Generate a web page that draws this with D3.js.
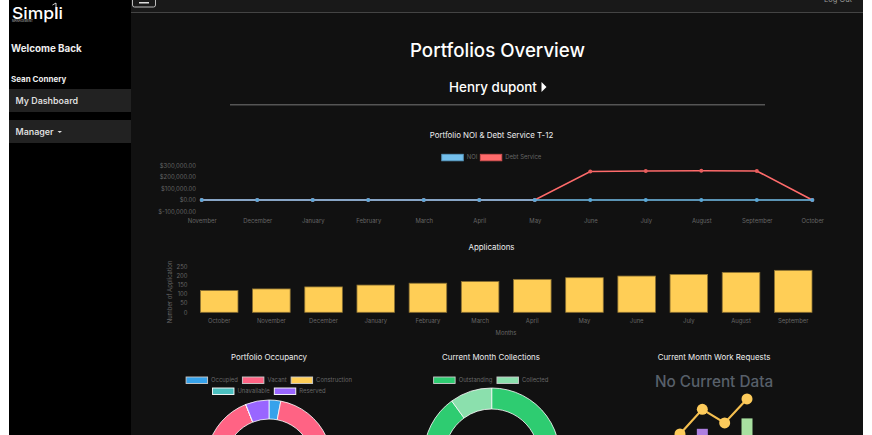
<!DOCTYPE html>
<html>
<head>
<meta charset="utf-8">
<script src="https://cdn.jsdelivr.net/npm/d3@7"></script>
<style>
  html, body { margin: 0; padding: 0; background: #fff; overflow: hidden; }
  svg { display: block; font-family: Inter, "Noto Sans", sans-serif; }
  .domain { display: none; }
</style>
</head>
<body>
<div id="page"></div>
<script>
// Line chart data
const lineMonths = ['November', 'December', 'January', 'February', 'March', 'April', 'May', 'June', 'July', 'August', 'September', 'October'];
const noiValues = [0, 0, 0, 0, 0, 0, 0, 0, 0, 0, 0, 0];
const debtValues = [0, 0, 0, 0, 0, 0, 0, 246000, 250000, 252000, 250000, 0];
const lineTicks = [-100000, 0, 100000, 200000, 300000];

// Applications data
const barMonths = ['October', 'November', 'December', 'January', 'February', 'March', 'April', 'May', 'June', 'July', 'August', 'September'];
const applications = [118, 127, 138, 148, 158, 167, 179, 188, 197, 206, 217, 228];
const barTicks = [0, 50, 100, 150, 200, 250];

// Donuts
const occupancyLabels = ['Occupied', 'Vacant', 'Construction', 'Unavailable', 'Reserved'];
const occupancyValues = [3, 91, 0, 0, 6];
const occupancyColors = ['#36a2eb', '#ff6384', '#ffce56', '#4bc0c0', '#9966ff'];
const collectionLabels = ['Outstanding', 'Collected'];
const collectionValues = [90, 10];
const collectionColors = ['#2ecc71', '#8be0ad'];

// "No Current Data" illustration
const emptyLine = [1, 2.9, 1.85, 3.7];
const emptyBars = [{ slot: 1, value: 1.4, color: '#ad7fe0' }, { slot: 3, value: 2.2, color: '#a8e0a0' }];

const svg = d3.select('#page').append('svg').attr('width', 872).attr('height', 435);
const muted = '#666';
const tickSize = 5.9;

// Page shell
svg.append('rect').attr('x', 9).attr('width', 122).attr('height', 435).attr('fill', '#000');
svg.append('rect').attr('x', 131).attr('width', 732).attr('height', 435).attr('fill', '#111');
svg.append('rect').attr('x', 131).attr('width', 732).attr('height', 12).attr('fill', '#191919');
svg.append('rect').attr('x', 131).attr('y', 12).attr('width', 732).attr('height', 1).attr('fill', '#444');
svg.append('rect').attr('x', 132.5).attr('y', -6).attr('width', 23).attr('height', 13).attr('rx', 2)
  .attr('fill', 'none').attr('stroke', '#bbb');
svg.append('rect').attr('x', 139).attr('y', 2).attr('width', 10).attr('height', 1.5).attr('fill', '#ddd');
svg.append('text').attr('x', 838).attr('y', 2).attr('text-anchor', 'middle')
  .attr('font-size', 7.5).attr('fill', '#999').text('Log Out');

// Sidebar
svg.append('text').attr('x', 12).attr('y', 19.3).attr('font-size', 16.5).attr('font-weight', 500)
  .attr('fill', '#fff').attr('textLength', 51).attr('lengthAdjust', 'spacingAndGlyphs').text('Simpli');
svg.append('path').attr('d', 'M52.5 5 L56 3 V19').attr('fill', 'none').attr('stroke', '#fff').attr('stroke-width', 0.8);
svg.append('text').attr('x', 12).attr('y', 22).attr('font-size', 2.9).attr('fill', '#bbb').text('MANAGEMENT');
svg.append('text').attr('x', 11).attr('y', 52).attr('font-size', 9.8).attr('font-weight', 700)
  .attr('fill', '#eee').text('Welcome Back');
svg.append('text').attr('x', 11).attr('y', 82).attr('font-size', 8).attr('font-weight', 700)
  .attr('fill', '#eee').text('Sean Connery');
svg.append('rect').attr('x', 9).attr('y', 89).attr('width', 122).attr('height', 23).attr('fill', '#222');
svg.append('rect').attr('x', 9).attr('y', 120).attr('width', 122).attr('height', 23).attr('fill', '#222');
svg.append('text').attr('x', 15.5).attr('y', 104).attr('font-size', 8.9).attr('font-weight', 600)
  .attr('fill', '#ddd').text('My Dashboard');
svg.append('text').attr('x', 15.5).attr('y', 135).attr('font-size', 8.9).attr('font-weight', 600)
  .attr('fill', '#ddd').text('Manager');
svg.append('path').attr('d', 'M57.5 131 h4.5 l-2.25 2 z').attr('fill', '#ddd');

// Headings
svg.append('text').attr('x', 497.5).attr('y', 57).attr('text-anchor', 'middle').attr('font-size', 18.7)
  .attr('font-weight', 500).attr('fill', '#fff').text('Portfolios Overview');
svg.append('text').attr('x', 493).attr('y', 92).attr('text-anchor', 'middle').attr('font-size', 13.4)
  .attr('font-weight', 500).attr('fill', '#fff').text('Henry dupont');
svg.append('path').attr('d', 'M541.5 82 l5 5 l-5 5 z').attr('fill', '#fff');
svg.append('rect').attr('x', 230).attr('y', 104).attr('width', 535).attr('height', 1.5).attr('fill', '#555');

// Chart helpers
function chartTitle(text, x, y) {
  svg.append('text').attr('x', x).attr('y', y).attr('text-anchor', 'middle').attr('dy', '0.35em')
    .attr('font-size', 7.9).attr('fill', '#eee').text(text);
}

function legendRow(items, colors, cx, y, border, gap) {
  const g = svg.append('g');
  const labels = items.map(d => g.append('text').attr('y', y + 3.2).attr('dy', '0.32em')
    .attr('font-size', tickSize).attr('fill', muted).text(d));
  const widths = labels.map(l => l.node().getComputedTextLength());
  const total = d3.sum(widths) + items.length * 25 + (items.length - 1) * gap;
  let x = cx - total / 2;
  items.forEach((d, i) => {
    g.append('rect').attr('x', x).attr('y', y).attr('width', 21.5).attr('height', 6.5)
      .attr('fill', colors[i]).attr('stroke', border[i]).attr('stroke-width', 0.9);
    labels[i].attr('x', x + 25);
    x += 25 + widths[i] + gap;
  });
}

function styleAxis(g) {
  g.selectAll('text').attr('fill', muted).attr('font-size', tickSize).attr('font-family', 'Inter');
  g.selectAll('line').remove();
}

// NOI & debt line chart
chartTitle('Portfolio NOI & Debt Service T-12', 491.5, 135);
legendRow(['NOI', 'Debt Service'], ['#74c0ec', '#ff6b6b'], 491.5, 154.3, ['#5a9cc4', '#d05050'], 3);

const lineX = d3.scalePoint().domain(lineMonths).range([201.7, 812.3]);
const lineY = d3.scaleLinear().domain([-100000, 300000]).range([211.6, 165.2]);
const money = d => (d < 0 ? '$-' + d3.format(',.2f')(-d) : '$' + d3.format(',.2f')(d));

svg.append('g').attr('transform', 'translate(196,0)')
  .call(d3.axisLeft(lineY).tickValues(lineTicks).tickFormat(money).tickSize(0).tickPadding(0))
  .call(styleAxis);
svg.append('g').attr('transform', 'translate(0,219)')
  .call(d3.axisBottom(lineX).tickSize(0).tickPadding(0))
  .call(styleAxis);

const linePath = d3.line().x((d, i) => lineX(lineMonths[i])).y(d => lineY(d));

[[debtValues, '#ff6b6b', '#e85d5d'], [noiValues, '#74c0ec', '#5aa8d8']].forEach(([values, color, dot]) => {
  svg.append('path').datum(values).attr('d', linePath).attr('fill', 'none')
    .attr('stroke', color).attr('stroke-width', 1.6);
  svg.append('g').selectAll('circle').data(values).join('circle')
    .attr('cx', (d, i) => lineX(lineMonths[i])).attr('cy', d => lineY(d)).attr('r', 2)
    .attr('fill', dot);
});

// Applications bar chart
chartTitle('Applications', 491.5, 247);

const barX = d3.scaleBand().domain(barMonths).range([193.1, 819.3]);
const barY = d3.scaleLinear().domain([0, 250]).range([312.3, 266.3]);
const barWidth = barX.bandwidth() * 0.72;

svg.append('g').attr('transform', 'translate(187.5,0)')
  .call(d3.axisLeft(barY).tickValues(barTicks).tickSize(0).tickPadding(0))
  .call(styleAxis);
svg.append('g').attr('transform', 'translate(0,319)')
  .call(d3.axisBottom(barX).tickSize(0).tickPadding(0))
  .call(styleAxis);

svg.append('g').selectAll('rect').data(applications).join('rect')
  .attr('x', (d, i) => barX(barMonths[i]) + (barX.bandwidth() - barWidth) / 2)
  .attr('y', d => barY(d))
  .attr('width', barWidth)
  .attr('height', d => barY(0) - barY(d))
  .attr('fill', '#ffce56')
  .attr('stroke', '#8a7032')
  .attr('stroke-width', 0.8);

svg.append('text').attr('transform', 'translate(170,292) rotate(-90)').attr('text-anchor', 'middle')
  .attr('dy', '0.35em').attr('font-size', tickSize).attr('fill', muted).text('Number of Application');
svg.append('text').attr('x', 506).attr('y', 333).attr('text-anchor', 'middle')
  .attr('dy', '0.35em').attr('font-size', tickSize).attr('fill', muted).text('Months');

// Donuts
function donut(values, colors, cx, cy, outer, inner) {
  const pie = d3.pie().sort(null);
  const arc = d3.arc().innerRadius(inner).outerRadius(outer);
  svg.append('g').attr('transform', `translate(${cx},${cy})`)
    .selectAll('path').data(pie(values)).join('path')
    .attr('d', arc)
    .attr('fill', (d, i) => colors[i])
    .attr('stroke', '#fff')
    .attr('stroke-width', 0.8);
}

chartTitle('Portfolio Occupancy', 269, 357.5);
legendRow(occupancyLabels.slice(0, 3), occupancyColors.slice(0, 3), 269, 377, ['#ccc', '#ccc', '#ccc'], 4.5);
legendRow(occupancyLabels.slice(3), occupancyColors.slice(3), 269, 388, ['#fff', '#fff'], 4.5);
donut(occupancyValues, occupancyColors, 269, 463, 63, 44);

chartTitle('Current Month Collections', 491, 357.5);
legendRow(collectionLabels, collectionColors, 491, 377, ['#ccc', '#ccc'], 4.5);
donut(collectionValues, collectionColors, 491.7, 456, 68, 47);

// Work requests placeholder
chartTitle('Current Month Work Requests', 714, 357.5);
svg.append('text').attr('x', 714).attr('y', 382).attr('text-anchor', 'middle').attr('dy', '0.35em')
  .attr('font-size', 15.3).attr('font-weight', 500).attr('fill', '#58606a').text('No Current Data');

const emptyX = d3.scalePoint().domain(d3.range(emptyLine.length)).range([680, 747]);
const emptyY = d3.scaleLinear().domain([0, 4]).range([447, 395]);

svg.append('g').selectAll('rect').data(emptyBars).join('rect')
  .attr('x', d => emptyX(d.slot) - 5.5).attr('y', d => emptyY(d.value))
  .attr('width', 11).attr('height', d => emptyY(0) - emptyY(d.value)).attr('fill', d => d.color);
svg.append('path').datum(emptyLine)
  .attr('d', d3.line().x((d, i) => emptyX(i)).y(d => emptyY(d)))
  .attr('fill', 'none').attr('stroke', '#f5bf4f').attr('stroke-width', 2.2);
svg.append('g').selectAll('circle').data(emptyLine).join('circle')
  .attr('cx', (d, i) => emptyX(i)).attr('cy', d => emptyY(d)).attr('r', 5.5).attr('fill', '#fdcb5b');
</script>
</body>
</html>
